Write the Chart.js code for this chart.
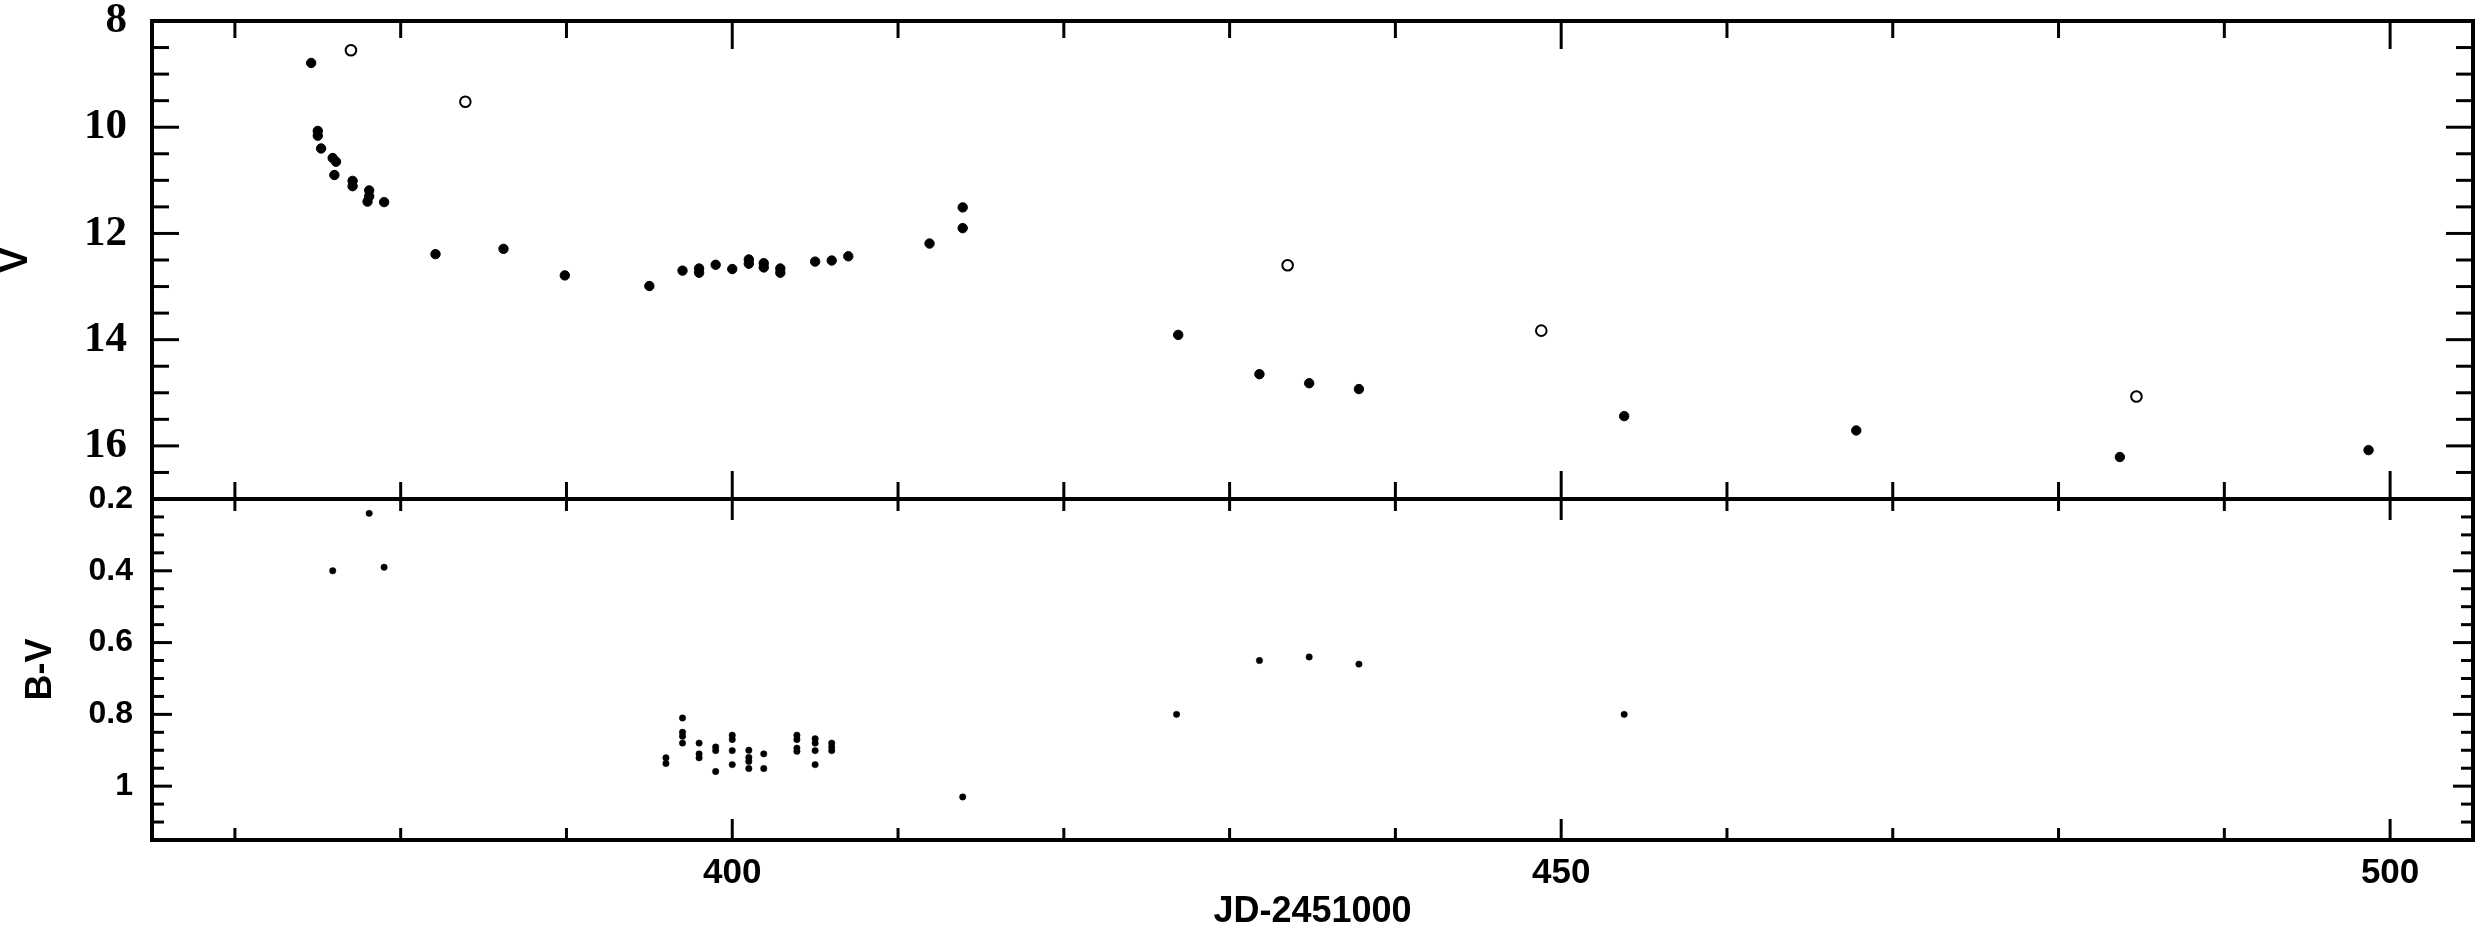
<!DOCTYPE html>
<html lang="en">
<head>
<meta charset="UTF-8">
<title>V and B-V light curve</title>
<script src="https://cdn.jsdelivr.net/npm/chart.js"></script>
<style>
  html, body { margin: 0; padding: 0; background: #fff; }
  #wrap { width: 2484px; height: 926px; }
</style>
</head>
<body>
<div id="wrap"><canvas id="lc" width="2484" height="926"></canvas></div>
<script>
// V magnitudes, filled dots
const vJD = [374.6, 375.0, 375.0, 375.2, 375.9, 376.1, 376.0, 377.1, 377.1, 378.1, 378.1, 378.0, 379.0,
  382.1, 386.2, 389.9, 395.0, 397.0, 398.0, 398.0, 399.0, 400.0, 401.0, 401.0, 401.9, 401.9, 402.9, 402.9,
  405.0, 406.0, 407.0, 411.9, 413.9, 413.9, 426.9, 431.8, 434.8, 437.8, 453.8, 467.8, 483.7, 498.7];
const vMag = [8.79, 10.07, 10.16, 10.40, 10.58, 10.65, 10.90, 11.01, 11.11, 11.19, 11.30, 11.40, 11.41,
  12.39, 12.29, 12.79, 12.99, 12.70, 12.66, 12.74, 12.59, 12.67, 12.49, 12.57, 12.56, 12.64, 12.66, 12.74,
  12.53, 12.51, 12.43, 12.19, 11.51, 11.90, 13.91, 14.65, 14.82, 14.93, 15.44, 15.71, 16.21, 16.08];

// V magnitudes, open circles
const vOpenJD = [377.0, 383.9, 433.5, 448.8, 484.7];
const vOpenMag = [8.55, 9.52, 12.60, 13.83, 15.07];

// B-V colour
const bvJD = [375.9, 378.1, 379.0,
  396.0, 396.0, 397.0, 397.0, 397.0, 397.0, 398.0, 398.0, 398.0, 399.0, 399.0, 399.0,
  400.0, 400.0, 400.0, 400.0, 401.0, 401.0, 401.0, 401.0, 401.9, 401.9,
  403.9, 403.9, 403.9, 403.9, 405.0, 405.0, 405.0, 405.0, 406.0, 406.0, 406.0,
  413.9, 426.8, 431.8, 434.8, 437.8, 453.8];
const bvCol = [0.40, 0.24, 0.39,
  0.921, 0.937, 0.810, 0.850, 0.861, 0.880, 0.880, 0.910, 0.921, 0.891, 0.901, 0.959,
  0.858, 0.870, 0.901, 0.940, 0.900, 0.920, 0.931, 0.951, 0.910, 0.951,
  0.858, 0.870, 0.894, 0.903, 0.868, 0.880, 0.901, 0.940, 0.880, 0.891, 0.901,
  1.03, 0.80, 0.65, 0.64, 0.66, 0.80];

const jdTicks = [400, 450, 500];
const vTicks = [8, 10, 12, 14, 16];
const bvTicks = [0.2, 0.4, 0.6, 0.8, 1];

const toPoints = (xs, ys) => xs.map((x, i) => ({ x: x, y: ys[i] }));

// frame with inward ticks on all sides
const framePlugin = {
  id: 'frame',
  afterDraw(chart) {
    const { ctx, chartArea: a, scales } = chart;
    const x = scales.x, yV = scales.yV, yBV = scales.yBV;
    const mid = yV.bottom;
    const seg = (x1, y1, x2, y2) => {
      ctx.beginPath(); ctx.moveTo(x1, y1); ctx.lineTo(x2, y2); ctx.stroke();
    };
    ctx.save();
    ctx.strokeStyle = '#000';
    ctx.lineWidth = 3;

    for (let v = 370; v <= 500; v += 10) {
      const px = x.getPixelForValue(v);
      const big = v % 50 === 0;
      const up = big ? 28 : 17, low = big ? 21 : 12;
      seg(px, a.top, px, a.top + up);
      seg(px, mid, px, mid - up);
      seg(px, mid, px, mid + low);
      seg(px, a.bottom, px, a.bottom - low);
    }
    for (let i = 17; i <= 33; i++) {
      const v = i / 2;
      const py = yV.getPixelForValue(v);
      const len = v % 2 === 0 ? 27 : 17;
      seg(a.left, py, a.left + len, py);
      seg(a.right, py, a.right - len, py);
    }
    for (let i = 5; i <= 22; i++) {
      const py = yBV.getPixelForValue(i * 0.05);
      const len = i % 4 === 0 ? 20 : 12;
      seg(a.left, py, a.left + len, py);
      seg(a.right, py, a.right - len, py);
    }

    ctx.lineWidth = 4;
    ctx.strokeRect(a.left, a.top, a.right - a.left, a.bottom - a.top);
    seg(a.left, mid, a.right, mid);
    ctx.restore();
  }
};

const sans = '"Liberation Sans", Arial, sans-serif';
const serif = '"Liberation Serif", "DejaVu Serif", serif';

new Chart(document.getElementById('lc'), {
  type: 'scatter',
  data: {
    datasets: [
      {
        label: 'V',
        data: toPoints(vJD, vMag),
        yAxisID: 'yV',
        pointRadius: 4.7,
        backgroundColor: '#000',
        borderColor: '#000',
        borderWidth: 1
      },
      {
        label: 'V open',
        data: toPoints(vOpenJD, vOpenMag),
        yAxisID: 'yV',
        pointRadius: 5.3,
        backgroundColor: 'rgba(255,255,255,0)',
        borderColor: '#000',
        borderWidth: 2
      },
      {
        label: 'B-V',
        data: toPoints(bvJD, bvCol),
        yAxisID: 'yBV',
        pointRadius: 3.2,
        backgroundColor: '#000',
        borderColor: '#000',
        borderWidth: 0.5
      }
    ]
  },
  options: {
    responsive: false,
    animation: false,
    devicePixelRatio: 1,
    layout: { padding: { top: 21, right: 11, bottom: 0, left: 0 } },
    plugins: { legend: { display: false }, tooltip: { enabled: false } },
    scales: {
      x: {
        type: 'linear',
        position: 'bottom',
        min: 365,
        max: 505,
        bounds: 'data',
        afterBuildTicks: s => { s.ticks = jdTicks.map(v => ({ value: v })); },
        afterFit: s => { s.height = 86; s.paddingLeft = 0; s.paddingRight = 0; },
        grid: { display: false, drawTicks: false },
        border: { display: false },
        ticks: {
          padding: 12, color: '#000', maxRotation: 0, autoSkip: false,
          callback: v => String(v),
          font: { family: sans, size: 35, weight: 'bold', lineHeight: 1.2 }
        },
        title: {
          display: true, text: 'JD-2451000', color: '#000',
          padding: { top: 0, bottom: 0 },
          font: { family: sans, size: 36, weight: 'bold', lineHeight: 0.75 }
        }
      },
      yV: {
        type: 'linear',
        position: 'left',
        stack: 'lc',
        stackWeight: 478,
        weight: 2,
        reverse: true,
        min: 8,
        max: 17,
        bounds: 'data',
        afterBuildTicks: s => { s.ticks = vTicks.map(v => ({ value: v })); },
        afterFit: s => { s.width = 152; s.paddingTop = 0; s.paddingBottom = 0; },
        grid: { display: false, drawTicks: false },
        border: { display: false },
        ticks: {
          padding: 25, color: '#000', autoSkip: false,
          callback: v => String(v),
          font: { family: serif, size: 43, weight: 'bold', lineHeight: 1 }
        },
        title: {
          display: true, text: 'V', color: '#000',
          padding: { top: 1, bottom: 0 },
          font: { family: sans, size: 38, weight: 'bold', lineHeight: 0.8 }
        }
      },
      yBV: {
        type: 'linear',
        position: 'left',
        stack: 'lc',
        stackWeight: 341,
        weight: 1,
        reverse: true,
        min: 0.2,
        max: 1.15,
        bounds: 'data',
        afterBuildTicks: s => { s.ticks = bvTicks.map(v => ({ value: v })); },
        afterFit: s => { s.width = 152; s.paddingTop = 0; s.paddingBottom = 0; },
        grid: { display: false, drawTicks: false },
        border: { display: false },
        ticks: {
          padding: 19, color: '#000', autoSkip: false,
          callback: v => String(v),
          font: { family: sans, size: 32, weight: 'bold', lineHeight: 1 }
        },
        title: {
          display: true, text: 'B-V', color: '#000',
          padding: { top: 27, bottom: 0 },
          font: { family: sans, size: 36, weight: 'bold', lineHeight: 0.8 }
        }
      }
    }
  },
  plugins: [framePlugin]
});
</script>
</body>
</html>
